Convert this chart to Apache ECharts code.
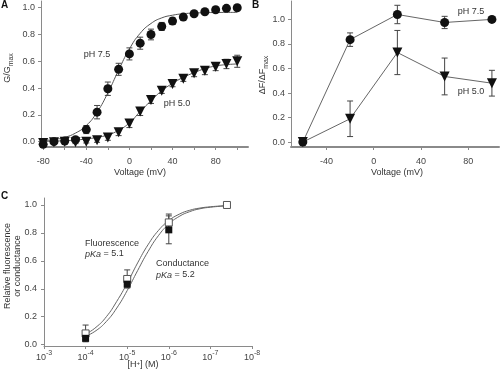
<!DOCTYPE html>
<html><head><meta charset="utf-8">
<script src="https://cdn.jsdelivr.net/npm/echarts@6/dist/echarts.min.js"></script>
<style>html,body{margin:0;padding:0;background:#fff}#c{width:500px;height:372px}</style>
</head><body><div id="c"></div>
<script>
// ---------- Panel A: G/Gmax vs voltage ----------
const aVoltage = [-80,-70,-60,-50,-40,-30,-20,-10,0,10,20,30,40,50,60,70,80,90,100];
const aPH75 = [-0.02,0.0,0.005,0.015,0.09,0.22,0.395,0.54,0.655,0.735,0.80,0.86,0.90,0.93,0.955,0.97,0.985,0.995,1.0];
const aPH75Err = [0.01,0.01,0.01,0.015,0.03,0.05,0.05,0.045,0.045,0.045,0.04,0.03,0.025,0.02,0.015,0.015,0.015,0.01,0.01];
const aPH50 = [-0.01,-0.005,0.0,-0.005,0.0,0.01,0.03,0.07,0.135,0.225,0.31,0.38,0.43,0.47,0.51,0.53,0.56,0.58,0.60];
const aPH50Err = [0.01,0.01,0.01,0.01,0.01,0.015,0.02,0.025,0.03,0.03,0.025,0.02,0.02,0.02,0.025,0.03,0.03,0.035,0.045];
const aFit75 = [0.008,0.016,0.032,0.064,0.12,0.22,0.364,0.534,0.692,0.809,0.882,0.924,0.944,0.955,0.96,0.963,0.964,0.965,0.965];
const aFit50 = [0.002,0.004,0.007,0.012,0.02,0.032,0.05,0.085,0.14,0.225,0.305,0.38,0.435,0.48,0.515,0.545,0.565,0.575,0.58];
const aXLabels = [-80,-40,0,40,80];
const aXTicks = [-80,-60,-40,-20,0,20,40,60,80,100];
const yLabels01 = [0,0.2,0.4,0.6,0.8,1.0];

// ---------- Panel B: dF/dFmax vs voltage ----------
const bVoltage = [-60,-20,20,60,100];
const bPH75 = [0,0.835,1.04,0.975,1.0];
const bPH75Err = [0.01,0.055,0.075,0.05,0.01];
const bPH50 = [0,0.19,0.73,0.535,0.48];
const bPH50Err = [0.01,0.145,0.18,0.15,0.105];
const bXLabels = [-40,0,40,80];

// ---------- Panel C: relative fluorescence / conductance vs [H+] ----------
const cH = [1e-4,1e-5,1e-6,4e-8];
const cFluor = [0.08,0.47,0.875,1.0];
const cFluorErr = [0.06,0.065,0.06,0.005];
const cCondH = [1e-4,1e-5,1e-6];
const cCond = [0.045,0.433,0.822];
const cCondErr = [0.01,0.02,0.1];
const cCurveH = [1e-4,5.62e-5,3.16e-5,1.78e-5,1e-5,5.62e-6,3.16e-6,1.78e-6,1e-6,5.62e-7,3.16e-7,1.78e-7,1e-7,5.62e-8,4e-8];
const cCurveFluor = [0.074,0.124,0.20,0.31,0.44,0.585,0.715,0.817,0.888,0.934,0.962,0.978,0.987,0.993,0.995];
const cCurveCond = [0.059,0.10,0.166,0.262,0.387,0.53,0.666,0.78,0.863,0.918,0.952,0.973,0.984,0.991,0.994];

const FONT = 'Liberation Sans, Arial, sans-serif';
const TXT = '#333';
const AX = '#8a8a8a';

function zip(xs, ys){ return xs.map((x,i)=>[x, ys[i]]); }
function errData(xs, ys, es){ return xs.map((x,i)=>[x, ys[i]-es[i], ys[i]+es[i]]); }
function errRender(params, api){
  const x = api.value(0), lo = api.value(1), hi = api.value(2);
  const p1 = api.coord([x, hi]), p2 = api.coord([x, lo]);
  const w = 3;
  const st = {stroke:'#444', lineWidth:1};
  return {type:'group', children:[
    {type:'line', shape:{x1:p1[0],y1:p1[1],x2:p2[0],y2:p2[1]}, style:st},
    {type:'line', shape:{x1:p1[0]-w,y1:p1[1],x2:p1[0]+w,y2:p1[1]}, style:st},
    {type:'line', shape:{x1:p2[0]-w,y1:p2[1],x2:p2[0]+w,y2:p2[1]}, style:st}
  ]};
}
function valueAxis(idx, min, max, labels, ticks, margin, isX, lineW){
  return {
    type:'value', gridIndex:idx, min:min, max:max,
    splitLine:{show:false},
    axisLine:{show:true, onZero:false, lineStyle:{color:AX, width:lineW}},
    axisTick:{show:true, length:3, customValues:ticks, lineStyle:{color:AX}},
    axisLabel:{customValues:labels, margin:margin, fontSize:9, color:'#444', fontFamily:FONT,
      formatter: isX ? (v)=>String(v) : (v)=>v.toFixed(1)}
  };
}

const chart = echarts.init(document.getElementById('c'), null, {renderer:'canvas'});
const option = {
  animation:false,
  backgroundColor:'#fff',
  grid:[
    {left:41, top:1, width:207, height:146},
    {left:291, top:1, width:208, height:146},
    {left:44, top:198, width:208, height:148}
  ],
  xAxis:[
    valueAxis(0, -82, 110, aXLabels, aXTicks, 10, true, 2),
    valueAxis(1, -70, 106, bXLabels, bXLabels, 10, true, 2),
    {type:'log', gridIndex:2, min:1e-8, max:1e-3, inverse:true, logBase:10,
     splitLine:{show:false},
     axisLine:{show:true, onZero:false, lineStyle:{color:AX, width:1}},
     axisTick:{show:true, length:3, lineStyle:{color:AX}},
     minorTick:{show:false},
     axisLabel:{margin:4, color:'#444', fontFamily:FONT,
       formatter:(v)=>'{b|10}{s|' + Math.round(Math.log10(v)) + '}',
       rich:{b:{fontSize:9, fontFamily:FONT, color:'#444', lineHeight:12, verticalAlign:'bottom'},
             s:{fontSize:7, fontFamily:FONT, color:'#444', lineHeight:8, verticalAlign:'top'}}}}
  ],
  yAxis:[
    valueAxis(0, -0.04, 1.05, yLabels01, yLabels01, 6, false, 1),
    valueAxis(1, -0.04, 1.15, yLabels01, yLabels01, 6, false, 1),
    valueAxis(2, -0.01, 1.05, yLabels01, yLabels01, 7, false, 1)
  ],
  series:[
    // Panel A
    {type:'line', xAxisIndex:0, yAxisIndex:0, data:zip(aVoltage,aFit75), smooth:true, showSymbol:false, lineStyle:{color:'#555', width:1}, z:2},
    {type:'line', xAxisIndex:0, yAxisIndex:0, data:zip(aVoltage,aFit50), smooth:true, showSymbol:false, lineStyle:{color:'#555', width:1}, z:2},
    {type:'custom', xAxisIndex:0, yAxisIndex:0, data:errData(aVoltage,aPH75,aPH75Err), renderItem:errRender, z:3},
    {type:'custom', xAxisIndex:0, yAxisIndex:0, data:errData(aVoltage,aPH50,aPH50Err), renderItem:errRender, z:3},
    {type:'scatter', xAxisIndex:0, yAxisIndex:0, data:zip(aVoltage,aPH75), symbol:'circle', symbolSize:9, itemStyle:{color:'#111', opacity:1}, z:4},
    {type:'scatter', xAxisIndex:0, yAxisIndex:0, data:zip(aVoltage,aPH50), symbol:'triangle', symbolRotate:180, symbolSize:10, itemStyle:{color:'#111', opacity:1}, z:4},
    // Panel B
    {type:'custom', xAxisIndex:1, yAxisIndex:1, data:errData(bVoltage,bPH75,bPH75Err), renderItem:errRender, z:3},
    {type:'custom', xAxisIndex:1, yAxisIndex:1, data:errData(bVoltage,bPH50,bPH50Err), renderItem:errRender, z:3},
    {type:'line', xAxisIndex:1, yAxisIndex:1, data:zip(bVoltage,bPH75), symbol:'circle', symbolSize:9, showAllSymbol:true, lineStyle:{color:'#666', width:1}, itemStyle:{color:'#111'}, z:4},
    {type:'line', xAxisIndex:1, yAxisIndex:1, data:zip(bVoltage,bPH50), symbol:'triangle', symbolRotate:180, symbolSize:10, showAllSymbol:true, lineStyle:{color:'#666', width:1}, itemStyle:{color:'#111'}, z:4},
    // Panel C
    {type:'line', xAxisIndex:2, yAxisIndex:2, data:zip(cCurveH,cCurveFluor), smooth:true, showSymbol:false, lineStyle:{color:'#666', width:1}, z:2},
    {type:'line', xAxisIndex:2, yAxisIndex:2, data:zip(cCurveH,cCurveCond), smooth:true, showSymbol:false, lineStyle:{color:'#666', width:1}, z:2},
    {type:'custom', xAxisIndex:2, yAxisIndex:2, data:errData(cH,cFluor,cFluorErr), renderItem:errRender, z:3},
    {type:'custom', xAxisIndex:2, yAxisIndex:2, data:errData(cCondH,cCond,cCondErr), renderItem:errRender, z:3},
    {type:'scatter', xAxisIndex:2, yAxisIndex:2, data:zip(cH,cFluor), symbol:'rect', symbolSize:7, itemStyle:{color:'#fff', borderColor:'#555', borderWidth:1, opacity:1}, z:4},
    {type:'scatter', xAxisIndex:2, yAxisIndex:2, data:zip(cCondH,cCond), symbol:'rect', symbolSize:7, itemStyle:{color:'#111', opacity:1}, z:5}
  ],
  graphic:[
    {type:'text', x:1, y:0, style:{text:'A', fontSize:10, fontWeight:'bold', fontFamily:FONT, fill:'#111'}},
    {type:'text', x:252, y:0, style:{text:'B', fontSize:10, fontWeight:'bold', fontFamily:FONT, fill:'#111'}},
    {type:'text', x:1, y:191, style:{text:'C', fontSize:10, fontWeight:'bold', fontFamily:FONT, fill:'#111'}},
    // axis names
    {type:'text', x:140, y:173, style:{text:'Voltage (mV)', align:'center', verticalAlign:'middle', fontSize:9, fontFamily:FONT, fill:TXT}},
    {type:'text', x:397, y:173, style:{text:'Voltage (mV)', align:'center', verticalAlign:'middle', fontSize:9, fontFamily:FONT, fill:TXT}},
    {type:'text', x:143, y:365, style:{text:'[H{s|+}] (M)', align:'center', verticalAlign:'middle', fontSize:9, fontFamily:FONT, fill:TXT,
        rich:{s:{fontSize:6, fontFamily:FONT, fill:TXT, verticalAlign:'top', lineHeight:7}}}},
    {type:'text', x:8, y:68, rotation:Math.PI/2, style:{text:'G/G{s|max}', align:'center', verticalAlign:'middle', fontSize:9, fontFamily:FONT, fill:TXT, lineHeight:14,
        rich:{s:{fontSize:7, fontFamily:FONT, fill:TXT, verticalAlign:'bottom', lineHeight:8}}}},
    {type:'text', x:263, y:75, rotation:Math.PI/2, style:{text:'ΔF/ΔF{s|max}', align:'center', verticalAlign:'middle', fontSize:9, fontFamily:FONT, fill:TXT, lineHeight:14,
        rich:{s:{fontSize:7, fontFamily:FONT, fill:TXT, verticalAlign:'bottom', lineHeight:8}}}},
    {type:'text', x:13, y:266, rotation:Math.PI/2, style:{text:'Relative fluorescence\nor conductance', align:'center', verticalAlign:'middle', fontSize:9, lineHeight:10, fontFamily:FONT, fill:TXT}},
    // annotations
    {type:'text', x:97, y:55, style:{text:'pH 7.5', align:'center', verticalAlign:'middle', fontSize:9, fontFamily:FONT, fill:TXT}},
    {type:'text', x:177, y:104, style:{text:'pH 5.0', align:'center', verticalAlign:'middle', fontSize:9, fontFamily:FONT, fill:TXT}},
    {type:'text', x:471, y:12, style:{text:'pH 7.5', align:'center', verticalAlign:'middle', fontSize:9, fontFamily:FONT, fill:TXT}},
    {type:'text', x:471, y:92, style:{text:'pH 5.0', align:'center', verticalAlign:'middle', fontSize:9, fontFamily:FONT, fill:TXT}},
    {type:'text', x:85, y:244, style:{text:'Fluorescence', align:'left', verticalAlign:'middle', fontSize:9, fontFamily:FONT, fill:TXT}},
    {type:'text', x:85, y:254, style:{text:'{i|pKa} = 5.1', align:'left', verticalAlign:'middle', fontSize:9, fontFamily:FONT, fill:TXT,
        rich:{i:{fontStyle:'italic', fontSize:9, fontFamily:FONT, fill:TXT}}}},
    {type:'text', x:156, y:264, style:{text:'Conductance', align:'left', verticalAlign:'middle', fontSize:9, fontFamily:FONT, fill:TXT}},
    {type:'text', x:156, y:275, style:{text:'{i|pKa} = 5.2', align:'left', verticalAlign:'middle', fontSize:9, fontFamily:FONT, fill:TXT,
        rich:{i:{fontStyle:'italic', fontSize:9, fontFamily:FONT, fill:TXT}}}}
  ]
};
chart.setOption(option);
</script>
</body></html>
